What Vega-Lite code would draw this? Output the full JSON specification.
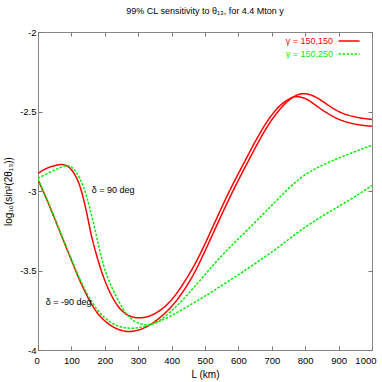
{
  "$schema": "https://vega.github.io/schema/vega-lite/v6.json",
  "width": 334,
  "height": 318,
  "autosize": {"type": "none"},
  "padding": {"left": 38, "top": 32, "right": 10, "bottom": 32},
  "background": "white",
  "config": {
    "font": "Liberation Sans, sans-serif",
    "view": {"stroke": "#888888", "strokeWidth": 1},
    "axis": {
      "labelFont": "Liberation Sans, sans-serif",
      "titleFont": "Liberation Sans, sans-serif",
      "labelFontSize": 9.5,
      "titleFontSize": 10,
      "titleFontWeight": "normal",
      "labelColor": "#000000",
      "titleColor": "#000000",
      "domain": false,
      "grid": false,
      "tickColor": "#777777",
      "tickSize": -4,
      "tickWidth": 1
    },
    "text": {"font": "Liberation Sans, sans-serif", "fontSize": 9}
  },
  "title": {
    "text": "99% CL sensitivity to θ₁₃, for 4.4 Mton y",
    "fontSize": 9,
    "fontWeight": "normal",
    "font": "Liberation Sans, sans-serif",
    "color": "#000000",
    "offset": 11
  },
  "datasets": {
    "curves": [
      {"L": 0, "v": -2.889, "gamma": "γ = 150,150", "delta": "90"},
      {"L": 20, "v": -2.862, "gamma": "γ = 150,150", "delta": "90"},
      {"L": 40, "v": -2.845, "gamma": "γ = 150,150", "delta": "90"},
      {"L": 60, "v": -2.835, "gamma": "γ = 150,150", "delta": "90"},
      {"L": 71, "v": -2.832, "gamma": "γ = 150,150", "delta": "90"},
      {"L": 85, "v": -2.838, "gamma": "γ = 150,150", "delta": "90"},
      {"L": 100, "v": -2.862, "gamma": "γ = 150,150", "delta": "90"},
      {"L": 113, "v": -2.905, "gamma": "γ = 150,150", "delta": "90"},
      {"L": 126, "v": -2.965, "gamma": "γ = 150,150", "delta": "90"},
      {"L": 141, "v": -3.088, "gamma": "γ = 150,150", "delta": "90"},
      {"L": 151, "v": -3.19, "gamma": "γ = 150,150", "delta": "90"},
      {"L": 161, "v": -3.295, "gamma": "γ = 150,150", "delta": "90"},
      {"L": 176, "v": -3.41, "gamma": "γ = 150,150", "delta": "90"},
      {"L": 186, "v": -3.48, "gamma": "γ = 150,150", "delta": "90"},
      {"L": 200, "v": -3.565, "gamma": "γ = 150,150", "delta": "90"},
      {"L": 216, "v": -3.643, "gamma": "γ = 150,150", "delta": "90"},
      {"L": 235, "v": -3.715, "gamma": "γ = 150,150", "delta": "90"},
      {"L": 255, "v": -3.765, "gamma": "γ = 150,150", "delta": "90"},
      {"L": 278, "v": -3.792, "gamma": "γ = 150,150", "delta": "90"},
      {"L": 300, "v": -3.8, "gamma": "γ = 150,150", "delta": "90"},
      {"L": 325, "v": -3.794, "gamma": "γ = 150,150", "delta": "90"},
      {"L": 350, "v": -3.774, "gamma": "γ = 150,150", "delta": "90"},
      {"L": 380, "v": -3.73, "gamma": "γ = 150,150", "delta": "90"},
      {"L": 405, "v": -3.675, "gamma": "γ = 150,150", "delta": "90"},
      {"L": 435, "v": -3.585, "gamma": "γ = 150,150", "delta": "90"},
      {"L": 465, "v": -3.48, "gamma": "γ = 150,150", "delta": "90"},
      {"L": 485, "v": -3.4, "gamma": "γ = 150,150", "delta": "90"},
      {"L": 505, "v": -3.31, "gamma": "γ = 150,150", "delta": "90"},
      {"L": 530, "v": -3.195, "gamma": "γ = 150,150", "delta": "90"},
      {"L": 555, "v": -3.08, "gamma": "γ = 150,150", "delta": "90"},
      {"L": 580, "v": -2.97, "gamma": "γ = 150,150", "delta": "90"},
      {"L": 605, "v": -2.87, "gamma": "γ = 150,150", "delta": "90"},
      {"L": 630, "v": -2.77, "gamma": "γ = 150,150", "delta": "90"},
      {"L": 655, "v": -2.67, "gamma": "γ = 150,150", "delta": "90"},
      {"L": 680, "v": -2.58, "gamma": "γ = 150,150", "delta": "90"},
      {"L": 705, "v": -2.505, "gamma": "γ = 150,150", "delta": "90"},
      {"L": 730, "v": -2.45, "gamma": "γ = 150,150", "delta": "90"},
      {"L": 755, "v": -2.415, "gamma": "γ = 150,150", "delta": "90"},
      {"L": 775, "v": -2.403, "gamma": "γ = 150,150", "delta": "90"},
      {"L": 800, "v": -2.415, "gamma": "γ = 150,150", "delta": "90"},
      {"L": 825, "v": -2.45, "gamma": "γ = 150,150", "delta": "90"},
      {"L": 850, "v": -2.49, "gamma": "γ = 150,150", "delta": "90"},
      {"L": 875, "v": -2.522, "gamma": "γ = 150,150", "delta": "90"},
      {"L": 900, "v": -2.55, "gamma": "γ = 150,150", "delta": "90"},
      {"L": 925, "v": -2.568, "gamma": "γ = 150,150", "delta": "90"},
      {"L": 950, "v": -2.58, "gamma": "γ = 150,150", "delta": "90"},
      {"L": 975, "v": -2.588, "gamma": "γ = 150,150", "delta": "90"},
      {"L": 1000, "v": -2.593, "gamma": "γ = 150,150", "delta": "90"},

      {"L": 0, "v": -2.93, "gamma": "γ = 150,150", "delta": "-90"},
      {"L": 25, "v": -3.045, "gamma": "γ = 150,150", "delta": "-90"},
      {"L": 50, "v": -3.175, "gamma": "γ = 150,150", "delta": "-90"},
      {"L": 75, "v": -3.305, "gamma": "γ = 150,150", "delta": "-90"},
      {"L": 100, "v": -3.435, "gamma": "γ = 150,150", "delta": "-90"},
      {"L": 125, "v": -3.565, "gamma": "γ = 150,150", "delta": "-90"},
      {"L": 150, "v": -3.675, "gamma": "γ = 150,150", "delta": "-90"},
      {"L": 175, "v": -3.765, "gamma": "γ = 150,150", "delta": "-90"},
      {"L": 200, "v": -3.82, "gamma": "γ = 150,150", "delta": "-90"},
      {"L": 225, "v": -3.858, "gamma": "γ = 150,150", "delta": "-90"},
      {"L": 250, "v": -3.878, "gamma": "γ = 150,150", "delta": "-90"},
      {"L": 270, "v": -3.886, "gamma": "γ = 150,150", "delta": "-90"},
      {"L": 290, "v": -3.881, "gamma": "γ = 150,150", "delta": "-90"},
      {"L": 305, "v": -3.872, "gamma": "γ = 150,150", "delta": "-90"},
      {"L": 325, "v": -3.855, "gamma": "γ = 150,150", "delta": "-90"},
      {"L": 345, "v": -3.83, "gamma": "γ = 150,150", "delta": "-90"},
      {"L": 375, "v": -3.78, "gamma": "γ = 150,150", "delta": "-90"},
      {"L": 405, "v": -3.717, "gamma": "γ = 150,150", "delta": "-90"},
      {"L": 435, "v": -3.633, "gamma": "γ = 150,150", "delta": "-90"},
      {"L": 465, "v": -3.53, "gamma": "γ = 150,150", "delta": "-90"},
      {"L": 485, "v": -3.445, "gamma": "γ = 150,150", "delta": "-90"},
      {"L": 505, "v": -3.355, "gamma": "γ = 150,150", "delta": "-90"},
      {"L": 530, "v": -3.24, "gamma": "γ = 150,150", "delta": "-90"},
      {"L": 555, "v": -3.125, "gamma": "γ = 150,150", "delta": "-90"},
      {"L": 580, "v": -3.015, "gamma": "γ = 150,150", "delta": "-90"},
      {"L": 605, "v": -2.91, "gamma": "γ = 150,150", "delta": "-90"},
      {"L": 630, "v": -2.81, "gamma": "γ = 150,150", "delta": "-90"},
      {"L": 655, "v": -2.71, "gamma": "γ = 150,150", "delta": "-90"},
      {"L": 680, "v": -2.615, "gamma": "γ = 150,150", "delta": "-90"},
      {"L": 705, "v": -2.535, "gamma": "γ = 150,150", "delta": "-90"},
      {"L": 730, "v": -2.47, "gamma": "γ = 150,150", "delta": "-90"},
      {"L": 755, "v": -2.42, "gamma": "γ = 150,150", "delta": "-90"},
      {"L": 775, "v": -2.395, "gamma": "γ = 150,150", "delta": "-90"},
      {"L": 795, "v": -2.385, "gamma": "γ = 150,150", "delta": "-90"},
      {"L": 815, "v": -2.392, "gamma": "γ = 150,150", "delta": "-90"},
      {"L": 840, "v": -2.418, "gamma": "γ = 150,150", "delta": "-90"},
      {"L": 865, "v": -2.455, "gamma": "γ = 150,150", "delta": "-90"},
      {"L": 890, "v": -2.49, "gamma": "γ = 150,150", "delta": "-90"},
      {"L": 915, "v": -2.515, "gamma": "γ = 150,150", "delta": "-90"},
      {"L": 940, "v": -2.53, "gamma": "γ = 150,150", "delta": "-90"},
      {"L": 970, "v": -2.543, "gamma": "γ = 150,150", "delta": "-90"},
      {"L": 1000, "v": -2.55, "gamma": "γ = 150,150", "delta": "-90"},

      {"L": 0, "v": -2.92, "gamma": "γ = 150,250", "delta": "90"},
      {"L": 30, "v": -2.888, "gamma": "γ = 150,250", "delta": "90"},
      {"L": 60, "v": -2.858, "gamma": "γ = 150,250", "delta": "90"},
      {"L": 86, "v": -2.836, "gamma": "γ = 150,250", "delta": "90"},
      {"L": 100, "v": -2.846, "gamma": "γ = 150,250", "delta": "90"},
      {"L": 115, "v": -2.88, "gamma": "γ = 150,250", "delta": "90"},
      {"L": 136, "v": -2.962, "gamma": "γ = 150,250", "delta": "90"},
      {"L": 156, "v": -3.11, "gamma": "γ = 150,250", "delta": "90"},
      {"L": 176, "v": -3.29, "gamma": "γ = 150,250", "delta": "90"},
      {"L": 186, "v": -3.385, "gamma": "γ = 150,250", "delta": "90"},
      {"L": 196, "v": -3.47, "gamma": "γ = 150,250", "delta": "90"},
      {"L": 210, "v": -3.555, "gamma": "γ = 150,250", "delta": "90"},
      {"L": 226, "v": -3.63, "gamma": "γ = 150,250", "delta": "90"},
      {"L": 255, "v": -3.75, "gamma": "γ = 150,250", "delta": "90"},
      {"L": 275, "v": -3.8, "gamma": "γ = 150,250", "delta": "90"},
      {"L": 295, "v": -3.828, "gamma": "γ = 150,250", "delta": "90"},
      {"L": 315, "v": -3.842, "gamma": "γ = 150,250", "delta": "90"},
      {"L": 335, "v": -3.842, "gamma": "γ = 150,250", "delta": "90"},
      {"L": 355, "v": -3.826, "gamma": "γ = 150,250", "delta": "90"},
      {"L": 380, "v": -3.792, "gamma": "γ = 150,250", "delta": "90"},
      {"L": 405, "v": -3.745, "gamma": "γ = 150,250", "delta": "90"},
      {"L": 430, "v": -3.692, "gamma": "γ = 150,250", "delta": "90"},
      {"L": 455, "v": -3.635, "gamma": "γ = 150,250", "delta": "90"},
      {"L": 480, "v": -3.575, "gamma": "γ = 150,250", "delta": "90"},
      {"L": 505, "v": -3.513, "gamma": "γ = 150,250", "delta": "90"},
      {"L": 530, "v": -3.453, "gamma": "γ = 150,250", "delta": "90"},
      {"L": 555, "v": -3.396, "gamma": "γ = 150,250", "delta": "90"},
      {"L": 580, "v": -3.342, "gamma": "γ = 150,250", "delta": "90"},
      {"L": 605, "v": -3.29, "gamma": "γ = 150,250", "delta": "90"},
      {"L": 630, "v": -3.238, "gamma": "γ = 150,250", "delta": "90"},
      {"L": 655, "v": -3.186, "gamma": "γ = 150,250", "delta": "90"},
      {"L": 680, "v": -3.133, "gamma": "γ = 150,250", "delta": "90"},
      {"L": 705, "v": -3.08, "gamma": "γ = 150,250", "delta": "90"},
      {"L": 730, "v": -3.026, "gamma": "γ = 150,250", "delta": "90"},
      {"L": 755, "v": -2.974, "gamma": "γ = 150,250", "delta": "90"},
      {"L": 780, "v": -2.928, "gamma": "γ = 150,250", "delta": "90"},
      {"L": 805, "v": -2.89, "gamma": "γ = 150,250", "delta": "90"},
      {"L": 830, "v": -2.86, "gamma": "γ = 150,250", "delta": "90"},
      {"L": 855, "v": -2.834, "gamma": "γ = 150,250", "delta": "90"},
      {"L": 880, "v": -2.81, "gamma": "γ = 150,250", "delta": "90"},
      {"L": 905, "v": -2.789, "gamma": "γ = 150,250", "delta": "90"},
      {"L": 930, "v": -2.768, "gamma": "γ = 150,250", "delta": "90"},
      {"L": 955, "v": -2.748, "gamma": "γ = 150,250", "delta": "90"},
      {"L": 980, "v": -2.728, "gamma": "γ = 150,250", "delta": "90"},
      {"L": 1000, "v": -2.713, "gamma": "γ = 150,250", "delta": "90"},

      {"L": 0, "v": -2.925, "gamma": "γ = 150,250", "delta": "-90"},
      {"L": 25, "v": -3.04, "gamma": "γ = 150,250", "delta": "-90"},
      {"L": 50, "v": -3.17, "gamma": "γ = 150,250", "delta": "-90"},
      {"L": 75, "v": -3.3, "gamma": "γ = 150,250", "delta": "-90"},
      {"L": 100, "v": -3.43, "gamma": "γ = 150,250", "delta": "-90"},
      {"L": 125, "v": -3.555, "gamma": "γ = 150,250", "delta": "-90"},
      {"L": 150, "v": -3.66, "gamma": "γ = 150,250", "delta": "-90"},
      {"L": 175, "v": -3.745, "gamma": "γ = 150,250", "delta": "-90"},
      {"L": 200, "v": -3.8, "gamma": "γ = 150,250", "delta": "-90"},
      {"L": 225, "v": -3.838, "gamma": "γ = 150,250", "delta": "-90"},
      {"L": 250, "v": -3.858, "gamma": "γ = 150,250", "delta": "-90"},
      {"L": 275, "v": -3.865, "gamma": "γ = 150,250", "delta": "-90"},
      {"L": 300, "v": -3.861, "gamma": "γ = 150,250", "delta": "-90"},
      {"L": 325, "v": -3.85, "gamma": "γ = 150,250", "delta": "-90"},
      {"L": 350, "v": -3.833, "gamma": "γ = 150,250", "delta": "-90"},
      {"L": 375, "v": -3.81, "gamma": "γ = 150,250", "delta": "-90"},
      {"L": 400, "v": -3.783, "gamma": "γ = 150,250", "delta": "-90"},
      {"L": 425, "v": -3.754, "gamma": "γ = 150,250", "delta": "-90"},
      {"L": 450, "v": -3.724, "gamma": "γ = 150,250", "delta": "-90"},
      {"L": 475, "v": -3.693, "gamma": "γ = 150,250", "delta": "-90"},
      {"L": 500, "v": -3.661, "gamma": "γ = 150,250", "delta": "-90"},
      {"L": 525, "v": -3.628, "gamma": "γ = 150,250", "delta": "-90"},
      {"L": 550, "v": -3.595, "gamma": "γ = 150,250", "delta": "-90"},
      {"L": 575, "v": -3.561, "gamma": "γ = 150,250", "delta": "-90"},
      {"L": 600, "v": -3.527, "gamma": "γ = 150,250", "delta": "-90"},
      {"L": 625, "v": -3.492, "gamma": "γ = 150,250", "delta": "-90"},
      {"L": 650, "v": -3.457, "gamma": "γ = 150,250", "delta": "-90"},
      {"L": 675, "v": -3.421, "gamma": "γ = 150,250", "delta": "-90"},
      {"L": 700, "v": -3.384, "gamma": "γ = 150,250", "delta": "-90"},
      {"L": 725, "v": -3.345, "gamma": "γ = 150,250", "delta": "-90"},
      {"L": 750, "v": -3.305, "gamma": "γ = 150,250", "delta": "-90"},
      {"L": 775, "v": -3.265, "gamma": "γ = 150,250", "delta": "-90"},
      {"L": 800, "v": -3.228, "gamma": "γ = 150,250", "delta": "-90"},
      {"L": 825, "v": -3.193, "gamma": "γ = 150,250", "delta": "-90"},
      {"L": 850, "v": -3.16, "gamma": "γ = 150,250", "delta": "-90"},
      {"L": 875, "v": -3.128, "gamma": "γ = 150,250", "delta": "-90"},
      {"L": 900, "v": -3.097, "gamma": "γ = 150,250", "delta": "-90"},
      {"L": 925, "v": -3.066, "gamma": "γ = 150,250", "delta": "-90"},
      {"L": 950, "v": -3.034, "gamma": "γ = 150,250", "delta": "-90"},
      {"L": 975, "v": -3.0, "gamma": "γ = 150,250", "delta": "-90"},
      {"L": 1000, "v": -2.965, "gamma": "γ = 150,250", "delta": "-90"}
    ],
    "notes": [
      {"L": 161, "v": -2.994, "note": "δ = 90 deg"},
      {"L": 23, "v": -3.70, "note": "δ = -90 deg"}
    ]
  },
  "resolve": {"axis": {"x": "independent", "y": "independent"}},
  "layer": [
    {
      "data": {"name": "curves"},
      "mark": {"type": "line", "strokeWidth": 1.5, "interpolate": "basis", "clip": true},
      "encoding": {
        "x": {
          "field": "L", "type": "quantitative",
          "scale": {"domain": [0, 1000], "nice": false, "zero": false},
          "axis": {"orient": "bottom", "values": [0, 100, 200, 300, 400, 500, 600, 700, 800, 900, 1000], "title": "L (km)", "labelExpr": "'' + datum.value", "labelPadding": 9, "titlePadding": 5, "labelFlush": true, "labelFlushOffset": 4}
        },
        "y": {
          "field": "v", "type": "quantitative",
          "scale": {"domain": [-4, -2], "nice": false, "zero": false},
          "axis": {"orient": "left", "values": [-4, -3.5, -3, -2.5, -2], "title": "log₁₀(sin²(2θ₁₃))", "labelExpr": "'' + datum.value", "labelPadding": 6, "titlePadding": 6, "labelFlush": false}
        },
        "color": {
          "field": "gamma", "type": "nominal",
          "scale": {"domain": ["γ = 150,150", "γ = 150,250"], "range": ["#ff0000", "#00f000"]},
          "legend": {
            "orient": "none", "legendX": 235, "legendY": 3, "title": null,
            "symbolType": "M-2,0H2", "symbolSize": 110, "symbolStrokeWidth": 1.5, "symbolFillColor": "transparent",
            "labelFontSize": 9, "rowPadding": 2, "padding": 0,
            "encode": {
              "labels": {"update": {"fill": {"signal": "datum.value === 'γ = 150,150' ? '#ff0000' : '#00f000'"}, "x": {"value": 60}, "align": {"value": "right"}}},
              "symbols": {"update": {"x": {"value": 76}}}
            }
          }
        },
        "strokeDash": {
          "field": "gamma", "type": "nominal",
          "scale": {"domain": ["γ = 150,150", "γ = 150,250"], "range": [[1, 0], [2.5, 1.5]]}
        },
        "detail": {"field": "delta"}
      }
    },
    {
      "data": {"name": "curves"},
      "mark": {"type": "line", "opacity": 0},
      "encoding": {
        "x": {"field": "L", "type": "quantitative", "axis": {"orient": "top", "values": [0, 100, 200, 300, 400, 500, 600, 700, 800, 900, 1000], "labels": false, "title": null}},
        "y": {"field": "v", "type": "quantitative", "axis": {"orient": "right", "values": [-4, -3.5, -3, -2.5, -2], "labels": false, "title": null}},
        "detail": {"field": "delta"}
      }
    },
    {
      "data": {"name": "notes"},
      "mark": {"type": "text", "align": "left", "baseline": "middle", "fontSize": 9, "color": "#000000"},
      "encoding": {
        "x": {"field": "L", "type": "quantitative", "axis": null},
        "y": {"field": "v", "type": "quantitative", "axis": null},
        "text": {"field": "note"}
      }
    }
  ]
}
